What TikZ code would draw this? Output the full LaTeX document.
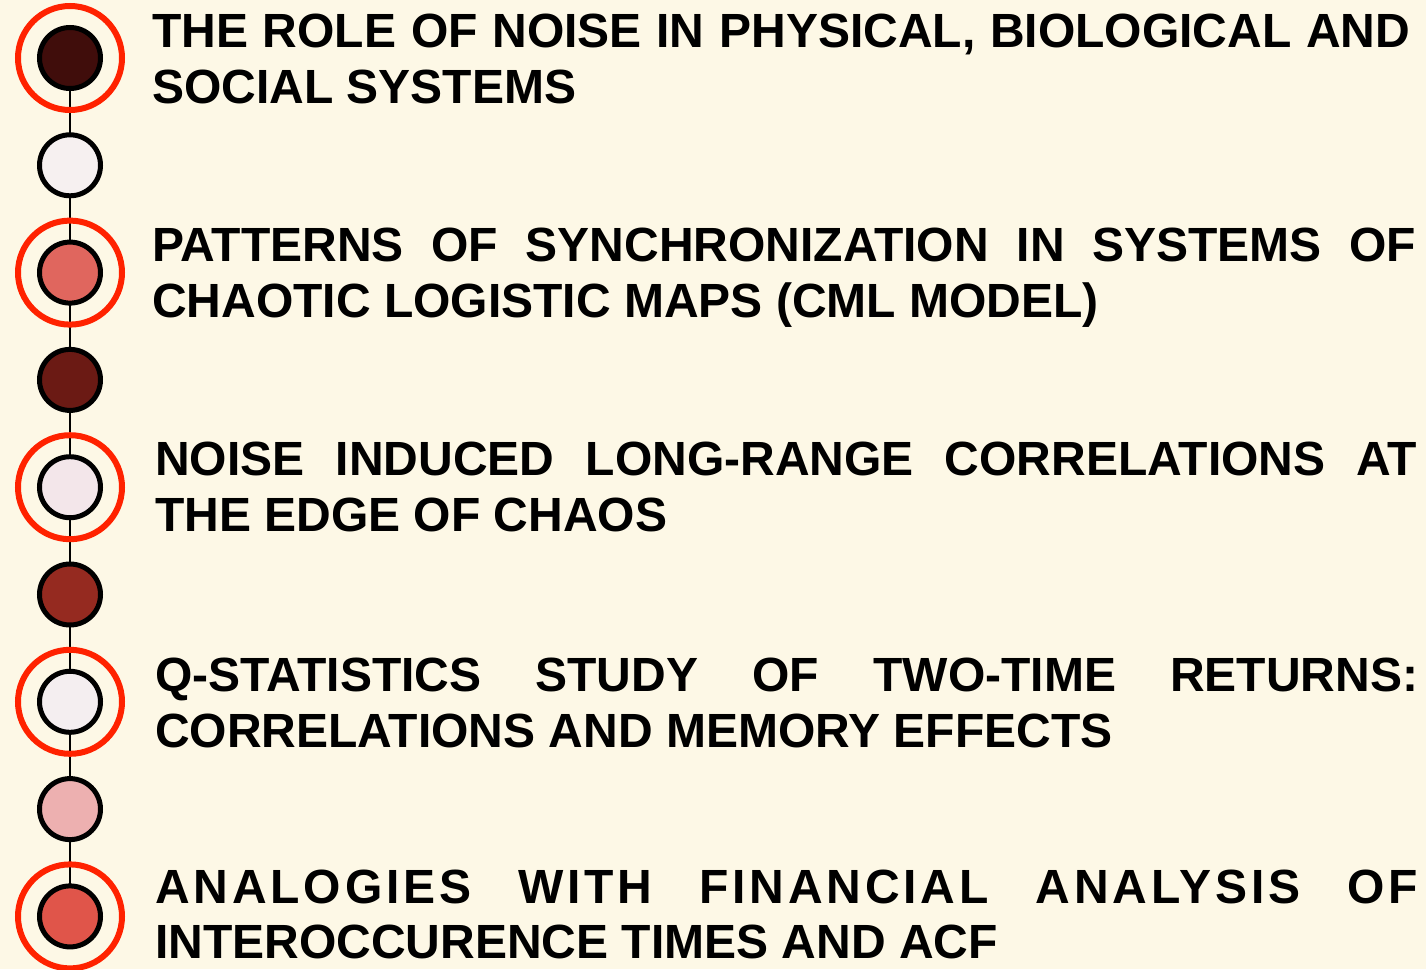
\documentclass[tikz,border=0pt]{standalone}
\usepackage{fontspec}
\setmainfont{Liberation Sans}
\definecolor{bg}{RGB}{253,248,230}
\definecolor{ringred}{RGB}{255,34,0}
\definecolor{cA}{RGB}{64,13,11}
\definecolor{cB}{RGB}{246,240,240}
\definecolor{cC}{RGB}{224,102,94}
\definecolor{cD}{RGB}{107,26,20}
\definecolor{cE}{RGB}{243,230,234}
\definecolor{cF}{RGB}{149,42,32}
\definecolor{cG}{RGB}{244,238,240}
\definecolor{cH}{RGB}{237,176,176}
\definecolor{cI}{RGB}{224,85,74}
\tikzset{
  dot/.style={circle, draw=black, line width=5pt, minimum size=61pt, inner sep=0pt},
  ring/.style={circle, draw=ringred, line width=6pt, minimum size=104pt, inner sep=0pt},
  ttl/.style={anchor=base west, inner sep=0pt, font=\fontsize{48}{56}\bfseries\selectfont},
}
\begin{document}
\begin{tikzpicture}[x=1pt,y=-1pt]
\fill[bg] (0,0) rectangle (1426,969);
\useasboundingbox (0,0) rectangle (1426,969);
% dots
\foreach \i in {1,...,9}{
  \coordinate (p\i) at (70,{58+107.3*(\i-1)});
}
\draw[line width=2.2pt] (p1) -- (p9);
\foreach \i/\c in {1/cA,2/cB,3/cC,4/cD,5/cE,6/cF,7/cG,8/cH,9/cI}{
  \node[dot, fill=\c] (d\i) at (p\i) {};
}
\foreach \i in {1,3,5,7,9}{
  \node[ring] (r\i) at (p\i) {};
}
% texts
\node[ttl] (t1a) at (152,47) {\makebox[1258pt][s]{THE ROLE OF NOISE IN PHYSICAL, BIOLOGICAL AND}};
\node[ttl] (t1b) at (152,103) {SOCIAL SYSTEMS};
\node[ttl] (t2a) at (152,261) {\makebox[1264pt][s]{PATTERNS OF SYNCHRONIZATION IN SYSTEMS OF}};
\node[ttl] (t2b) at (152,317) {CHAOTIC LOGISTIC MAPS (CML MODEL)};
\node[ttl] (t3a) at (155,475) {\makebox[1262pt][s]{NOISE INDUCED LONG-RANGE CORRELATIONS AT}};
\node[ttl] (t3b) at (155,531) {THE EDGE OF CHAOS};
\node[ttl] (t4a) at (155,691) {\makebox[1263pt][s]{Q-STATISTICS STUDY OF TWO-TIME RETURNS:}};
\node[ttl] (t4b) at (155,747) {CORRELATIONS AND MEMORY EFFECTS};
\node[ttl] (t5a) at (155,903) {\addfontfeatures{LetterSpace=8}\makebox[1263pt][s]{ANALOGIES WITH FINANCIAL ANALYSIS OF}};
\node[ttl] (t5b) at (155,958) {INTEROCCURENCE TIMES AND ACF};
\end{tikzpicture}
\end{document}
